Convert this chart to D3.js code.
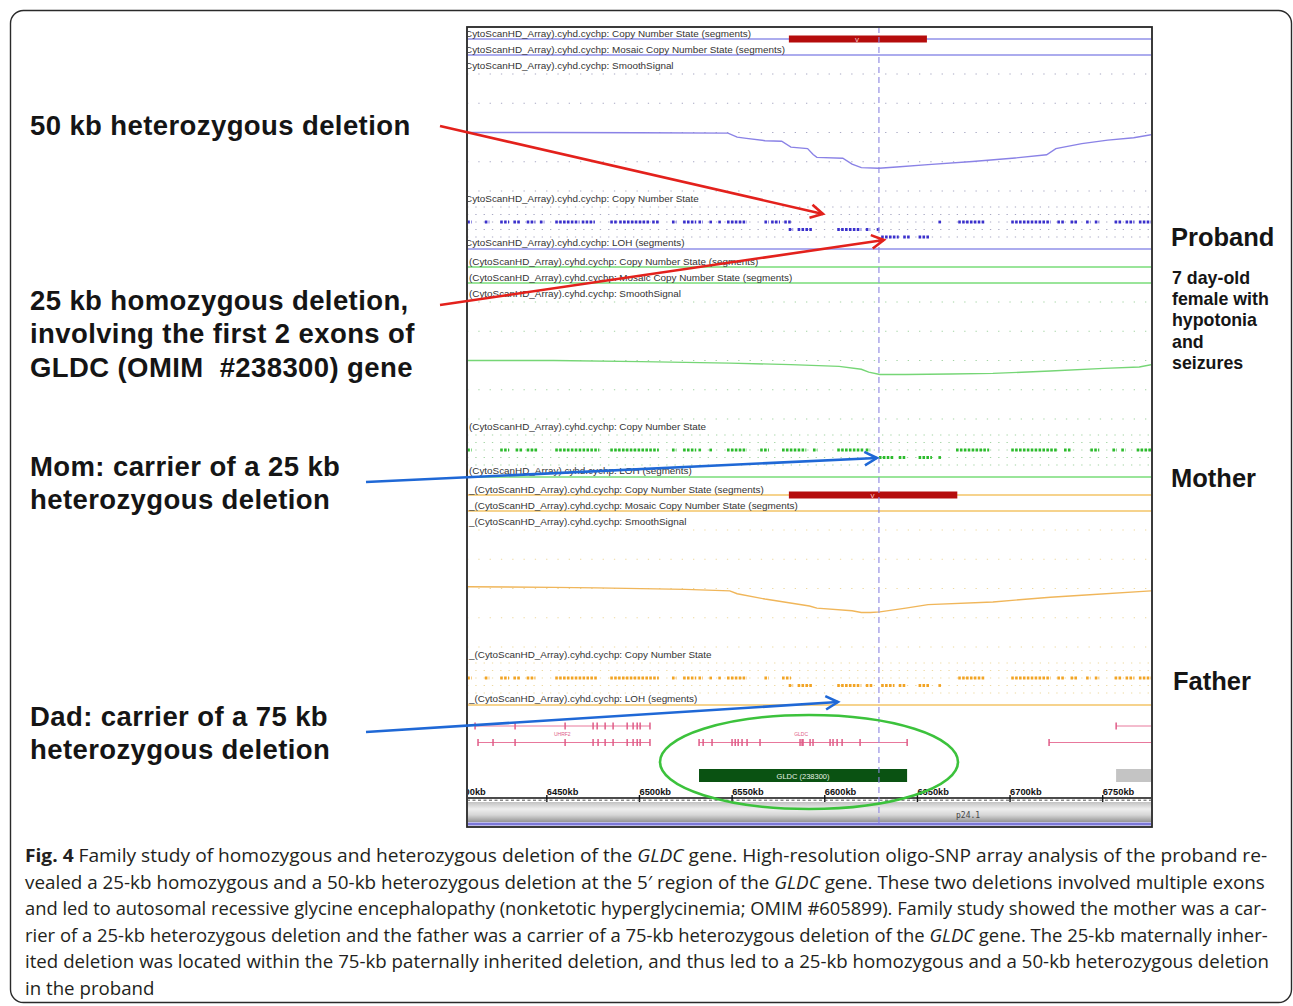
<!DOCTYPE html>
<html><head><meta charset="utf-8">
<script src="https://cdn.jsdelivr.net/npm/d3@7"></script>
<style>
html,body{margin:0;padding:0;background:#fff;}
svg{display:block;}
</style></head>
<body>
<svg id="fig" width="1293" height="1006"></svg>
<script>
// ---- genomic axis (kb on chr9p24.1) ----
const axisTicks = [6400, 6450, 6500, 6550, 6600, 6650, 6700, 6750];
const axisLabels = ["6400kb", "6450kb", "6500kb", "6550kb", "6600kb", "6650kb", "6700kb", "6750kb"];
const cursorKb = 6629.5;
const bandLabel = "p24.1";

// ---- samples ----
const sampleNames = ["Proband", "Mother", "Father"];
const probandNotes = ["7 day-old", "female with", "hypotonia", "and", "seizures"];
const trackPrefixes = ["CytoScanHD_Array).cyhd.cychp: ", "(CytoScanHD_Array).cyhd.cychp: ", "_(CytoScanHD_Array).cyhd.cychp: "];
const trackNames = ["Copy Number State (segments)", "Mosaic Copy Number State (segments)", "SmoothSignal", "Copy Number State", "LOH (segments)"];

// copy-number loss segments (kb) and segment markers
const lossSegments = [[6580.9, 6655.4], null, [6580.9, 6671.8]];
const lossMarkers = [6617.6, null, 6626.0];

// SmoothSignal [kb, copy number]
const smoothProband = [[6407,2.0],[6450,2.0],[6500,1.99],[6548,1.98],[6553,1.84],[6558,1.80],[6568,1.72],[6577,1.70],[6582,1.50],[6591,1.45],[6594,1.25],[6596,1.15],[6610,1.12],[6615,0.92],[6620,0.80],[6629.5,0.78],[6639,0.82],[6656,0.90],[6680,1.01],[6703,1.13],[6720,1.24],[6725,1.45],[6739,1.62],[6753,1.74],[6767,1.82],[6777,1.93]];
const smoothMother = [[6407,2.0],[6454,2.0],[6501,1.96],[6549,1.91],[6582,1.86],[6608,1.80],[6620,1.70],[6624,1.60],[6630,1.52],[6644,1.52],[6668,1.54],[6691,1.56],[6722,1.64],[6751,1.73],[6770,1.78],[6777,1.86]];
const smoothFather = [[6407,2.06],[6454,2.04],[6477,2.02],[6525,1.97],[6549,1.92],[6553,1.82],[6568,1.64],[6592,1.40],[6596,1.33],[6615,1.24],[6620,1.18],[6625,1.18],[6630,1.20],[6644,1.33],[6656,1.45],[6691,1.54],[6722,1.70],[6739,1.77],[6777,1.92]];

// Copy Number State calls: runs of probes [startKb, endKb] at CN 2, 1, 0
const cnProband2 = [[6407.3,6409.7],[6416.8,6419.2],[6425.1,6429.9],[6432.2,6435.8],[6439.4,6444.1],[6446.5,6448.9],[6454.8,6467.9],[6469.1,6476.2],[6484.5,6488.1],[6489.3,6505.9],[6507.1,6510.7],[6517.8,6520.2],[6523.8,6530.9],[6532.1,6534.5],[6538.0,6539.2],[6542.8,6544.0],[6547.5,6558.2],[6567.7,6570.1],[6571.3,6576.1],[6578.4,6582.0],[6661.6,6662.8],[6672.3,6686.6],[6700.9,6722.2],[6725.8,6729.4],[6732.9,6736.5],[6741.3,6743.6],[6746.0,6748.4],[6756.7,6760.3],[6762.6,6767.4],[6769.8,6777.0]];
const cnProband1 = [[6580.8,6583.2],[6585.6,6593.9],[6607.0,6620.0],[6622.4,6624.8],[6628.3,6629.5]];
const cnProband0 = [[6630.7,6640.2],[6642.6,6646.2],[6650.9,6656.9]];
const cnMother2 = [[6407.3,6409.7],[6425.1,6429.9],[6433.4,6437.0],[6439.4,6445.3],[6454.8,6478.6],[6484.5,6510.7],[6517.8,6520.2],[6523.8,6530.9],[6532.1,6533.3],[6538.0,6539.2],[6547.5,6558.2],[6565.4,6570.1],[6577.2,6590.3],[6593.9,6596.3],[6607.0,6621.2],[6622.4,6624.8],[6671.1,6689.0],[6700.9,6725.8],[6729.4,6732.9],[6743.6,6748.4],[6755.5,6757.9],[6760.3,6762.6],[6768.6,6777.0]];
const cnMother1 = [[6629.5,6637.9],[6640.2,6643.8],[6650.9,6658.1],[6661.6,6662.8]];
const cnMother0 = [];
const cnFather2 = [[6407.3,6409.7],[6416.8,6419.2],[6425.1,6429.9],[6432.2,6435.8],[6439.4,6444.1],[6454.8,6477.4],[6484.5,6510.7],[6517.8,6520.2],[6523.8,6530.9],[6532.1,6534.5],[6538.0,6539.2],[6542.8,6544.0],[6547.5,6558.2],[6567.7,6570.1],[6577.2,6582.0],[6672.3,6686.6],[6700.9,6722.2],[6725.8,6729.4],[6732.9,6736.5],[6741.3,6743.6],[6746.0,6748.4],[6756.7,6760.3],[6762.6,6767.4],[6769.8,6777.0]];
const cnFather1 = [[6580.8,6583.2],[6585.6,6593.9],[6607.0,6620.0],[6622.4,6626.0],[6630.7,6637.9],[6640.2,6643.8],[6650.9,6656.9],[6661.6,6662.8]];
const cnFather0 = [];

// ---- RefSeq transcripts ----
const transcriptNames = ["", "UHRF2", "GLDC", "", ""];
const transcriptRows = [0, 1, 1, 1, 0];
const transcriptSpans = [[6411.5,6505.9],[6413.1,6505.9],[6532.4,6644.7],[6721.3,6790],[6757.5,6790]];
const transcriptExons = [
  [6411.5,6433.1,6460.1,6475.2,6477.4,6481.7,6486.0,6493.6,6496.8,6499.0,6500.6,6505.9],
  [6413.1,6421.2,6433.1,6460.1,6475.2,6477.9,6481.7,6486.0,6493.6,6496.8,6499.0,6500.6,6505.9],
  [6532.4,6534.6,6539.4,6550.2,6551.9,6553.5,6555.6,6558.3,6565.3,6586.9,6588.0,6588.5,6592.3,6593.9,6603.1,6604.7,6606.9,6609.6,6619.3,6644.7],
  [6721.3],
  [6757.5]
];
const transcriptLabelKb = [null, 6458.6, 6587.5, null, null];

// ---- OMIM genes ----
const omimLabels = ["GLDC (238300)", ""];
const omimSpans = [[6532.4, 6644.7], [6757.5, 6790]];
const omimFills = ["#0a5212", "#c4c4c4"];

// ---- annotation text ----
const leftNotes = [
  ["50 kb heterozygous deletion"],
  ["25 kb homozygous deletion,", "involving the first 2 exons of", "GLDC (OMIM  #238300) gene"],
  ["Mom: carrier of a 25 kb", "heterozygous deletion"],
  ["Dad: carrier of a 75 kb", "heterozygous deletion"]
];
const captionLines = [
  [["Fig. 4","b"],[" Family study of homozygous and heterozygous deletion of the ",""],["GLDC","i"],[" gene. High-resolution oligo-SNP array analysis of the proband re-",""]],
  [["vealed a 25-kb homozygous and a 50-kb heterozygous deletion at the 5\u2032 region of the ",""],["GLDC","i"],[" gene. These two deletions involved multiple exons",""]],
  [["and led to autosomal recessive glycine encephalopathy (nonketotic hyperglycinemia; OMIM #605899). Family study showed the mother was a car-",""]],
  [["rier of a 25-kb heterozygous deletion and the father was a carrier of a 75-kb heterozygous deletion of the ",""],["GLDC","i"],[" gene. The 25-kb maternally inher-",""]],
  [["ited deletion was located within the 75-kb paternally inherited deletion, and thus led to a 25-kb homozygous and a 50-kb heterozygous deletion",""]],
  [["in the proband",""]]
];

// ================= drawing =================
const W = 1293, H = 1006;
const svg = d3.select("#fig");
const SANS = "'Liberation Sans', Arial, sans-serif";
svg.append("rect").attr("width", W).attr("height", H).attr("fill", "#fff");

// figure frame
svg.append("rect").attr("x", 10.5).attr("y", 10.5).attr("width", 1281).attr("height", 992)
  .attr("rx", 13).attr("fill", "none").attr("stroke", "#2a2a2a").attr("stroke-width", 1.4);

const P = {x0: 467, x1: 1152, y0: 27, y1: 827};
const x = d3.scaleLinear().domain([6400, 6750]).range([453.7, 1102.2]);

const defs = svg.append("defs");
defs.append("clipPath").attr("id", "panelClip").append("rect")
  .attr("x", P.x0 + 1).attr("y", P.y0 + 1).attr("width", P.x1 - P.x0 - 2).attr("height", P.y1 - P.y0 - 2);
const band = defs.append("linearGradient").attr("id", "bandGrad").attr("x1", 0).attr("y1", 0).attr("x2", 0).attr("y2", 1);
[["0%", "#c2c2c2"], ["35%", "#eeeeee"], ["65%", "#d6d6d6"], ["100%", "#959595"]]
  .forEach(([o, c]) => band.append("stop").attr("offset", o).attr("stop-color", c));

const panel = svg.append("g").attr("clip-path", "url(#panelClip)");

const trackTops = [27, 255, 483];
const palettes = [
  {line: "#9090e8", smooth: "#8a82e6", cn: "#3a30cc", grid: "#a8a8c4"},
  {line: "#78dc78", smooth: "#76d676", cn: "#2cbb2c", grid: "#a4d4a4"},
  {line: "#f3c467", smooth: "#f0b65a", cn: "#f2a424", grid: "#eed9a0"}
];
const smoothSeries = [smoothProband, smoothMother, smoothFather];
const cnSeries = [[cnProband2, cnProband1, cnProband0], [cnMother2, cnMother1, cnMother0], [cnFather2, cnFather1, cnFather0]];
const cnLevels = [2, 1, 0];
const labelX = [465, 469, 469];

sampleNames.forEach((name, i) => {
  const T = trackTops[i], pal = palettes[i];
  const g = panel.append("g");
  const yS = d3.scaleLinear().domain([0, 4]).range([T + 164, T + 47]);
  const yC = d3.scaleLinear().domain([0, 4]).range([T + 210, T + 180]);

  // dotted reference rows
  [0, 1, 2, 3, 4].forEach(v => {
    g.append("line").attr("x1", P.x0).attr("x2", P.x1).attr("y1", yS(v)).attr("y2", yS(v))
      .attr("stroke", pal.grid).attr("stroke-width", 1.2).attr("stroke-dasharray", "1.3,10");
    g.append("line").attr("x1", P.x0).attr("x2", P.x1).attr("y1", yC(v)).attr("y2", yC(v))
      .attr("stroke", pal.grid).attr("stroke-width", 1.2).attr("stroke-dasharray", "1.3,7");
  });

  // segment track baselines
  [T + 12, T + 28, T + 222].forEach(yy => {
    g.append("line").attr("x1", P.x0).attr("x2", P.x1).attr("y1", yy).attr("y2", yy)
      .attr("stroke", pal.line).attr("stroke-width", 1.6);
  });

  // track labels
  [T + 9.5, T + 25.5, T + 42, T + 175, T + 219].forEach((yy, k) => {
    g.append("text").attr("x", labelX[i]).attr("y", yy)
      .attr("font-family", SANS).attr("font-size", 9.9).attr("fill", "#333")
      .text(trackPrefixes[i] + trackNames[k]);
  });

  // copy-number loss segment
  if (lossSegments[i]) {
    const [s, e] = lossSegments[i];
    g.append("rect").attr("x", x(s)).attr("y", T + 8.5).attr("width", x(e) - x(s)).attr("height", 7)
      .attr("fill", "#b50c0c");
    g.append("text").attr("x", x(lossMarkers[i])).attr("y", T + 15).attr("text-anchor", "middle")
      .attr("font-family", SANS).attr("font-size", 8).attr("fill", "#f4c8c8").text("v");
  }

  // SmoothSignal
  g.append("path").datum(smoothSeries[i])
    .attr("d", d3.line().x(d => x(d[0])).y(d => yS(d[1])))
    .attr("fill", "none").attr("stroke", pal.smooth).attr("stroke-width", 1.4);

  // Copy Number State probe runs
  cnSeries[i].forEach((runs, k) => {
    g.selectAll(null).data(runs).enter().append("line")
      .attr("x1", d => x(d[0])).attr("x2", d => Math.max(x(d[1]), x(d[0]) + 2.6))
      .attr("y1", yC(cnLevels[k])).attr("y2", yC(cnLevels[k]))
      .attr("stroke", pal.cn).attr("stroke-width", 2.8).attr("stroke-dasharray", "2.6,1.3");
  });
});

// ---- transcripts ----
const rowY = [726, 742.5];
const tCol = "#e8789c";
transcriptSpans.forEach((sp, t) => {
  const yy = rowY[transcriptRows[t]];
  panel.append("line").attr("x1", x(sp[0])).attr("x2", x(sp[1])).attr("y1", yy).attr("y2", yy)
    .attr("stroke", tCol).attr("stroke-width", 1);
  panel.selectAll(null).data(transcriptExons[t]).enter().append("rect")
    .attr("x", d => x(d) - 0.7).attr("y", yy - 3.5).attr("width", 1.5).attr("height", 7)
    .attr("fill", "#e05c88");
  if (transcriptLabelKb[t] !== null) {
    panel.append("text").attr("x", x(transcriptLabelKb[t])).attr("y", yy - 7)
      .attr("text-anchor", "middle").attr("font-family", SANS).attr("font-size", 5)
      .attr("fill", "#e05c88").text(transcriptNames[t]);
  }
});

// ---- OMIM genes ----
omimSpans.forEach((sp, k) => {
  panel.append("rect").attr("x", x(sp[0])).attr("y", 769).attr("width", x(sp[1]) - x(sp[0])).attr("height", 13)
    .attr("fill", omimFills[k]);
  if (omimLabels[k]) {
    panel.append("text").attr("x", (x(sp[0]) + x(sp[1])) / 2).attr("y", 778.5).attr("text-anchor", "middle")
      .attr("font-family", SANS).attr("font-size", 7.5).attr("fill", "#e6f2e6").text(omimLabels[k]);
  }
});

// ---- position axis ----
const axisY = 798;
const ax = panel.append("g").attr("transform", `translate(0,${axisY})`)
  .call(d3.axisBottom(x).tickValues(axisTicks).tickFormat((d, i) => axisLabels[i]).tickSize(5).tickSizeOuter(0));
ax.select(".domain").remove();
ax.append("line").attr("x1", P.x0).attr("x2", P.x1).attr("stroke", "#111").attr("stroke-width", 1.3);
ax.append("line").attr("x1", P.x0).attr("x2", P.x1).attr("y1", 2.2).attr("y2", 2.2)
  .attr("stroke", "#555").attr("stroke-width", 1).attr("stroke-dasharray", "3,2.5");
ax.selectAll(".tick line").attr("y1", -3).attr("y2", 4).attr("stroke", "#111").attr("stroke-width", 1.4);
ax.selectAll(".tick text").attr("y", -3).attr("dy", 0).attr("text-anchor", "start")
  .attr("font-family", SANS).attr("font-weight", "bold").attr("font-size", 9.3).attr("fill", "#111");

// cytoband
panel.append("rect").attr("x", P.x0).attr("y", 802).attr("width", P.x1 - P.x0).attr("height", 20)
  .attr("fill", "url(#bandGrad)");
panel.append("line").attr("x1", P.x0).attr("x2", P.x1).attr("y1", 824).attr("y2", 824)
  .attr("stroke", "#7c78d8").attr("stroke-width", 3.2);
panel.append("text").attr("x", 956).attr("y", 818).attr("font-family", "'DejaVu Sans Mono', monospace")
  .attr("font-size", 8).attr("fill", "#444").text(bandLabel);

// cursor
panel.append("line").attr("x1", x(cursorKb)).attr("x2", x(cursorKb)).attr("y1", P.y0).attr("y2", P.y1)
  .attr("stroke", "#8c86e0").attr("stroke-width", 1.1).attr("stroke-dasharray", "6,4");

// panel frame
svg.append("rect").attr("x", P.x0).attr("y", P.y0).attr("width", P.x1 - P.x0).attr("height", P.y1 - P.y0)
  .attr("fill", "none").attr("stroke", "#262626").attr("stroke-width", 1.8);

// GLDC highlight
svg.append("ellipse").attr("cx", 809).attr("cy", 762).attr("rx", 149).attr("ry", 47)
  .attr("fill", "none").attr("stroke", "#3cc23c").attr("stroke-width", 2.6);

// ---- left annotations ----
const leftBase = [[135], [310, 343, 377], [476, 509], [726, 759]];
leftNotes.forEach((lines, k) => lines.forEach((ln, j) => {
  svg.append("text").attr("x", 30).attr("y", leftBase[k][j])
    .attr("font-family", SANS).attr("font-weight", "bold").attr("font-size", 27.5)
    .attr("letter-spacing", 0.4)
    .attr("fill", "#151515").style("white-space", "pre").text(ln);
}));

// ---- right annotations ----
const nameBase = [246, 487, 690];
const nameX = [1171, 1171, 1173];
sampleNames.forEach((n, i) => {
  svg.append("text").attr("x", nameX[i]).attr("y", nameBase[i]).attr("font-family", SANS)
    .attr("font-weight", "bold").attr("font-size", 25.5).attr("fill", "#151515").text(n);
});
probandNotes.forEach((n, j) => {
  svg.append("text").attr("x", 1172).attr("y", 283.5 + j * 21.4).attr("font-family", SANS)
    .attr("font-weight", "bold").attr("font-size", 17.8).attr("fill", "#151515").text(n);
});

// ---- arrows ----
function arrow(x1, y1, x2, y2, color) {
  const a = Math.atan2(y2 - y1, x2 - x1), L = 14, s = 0.5;
  svg.append("line").attr("x1", x1).attr("y1", y1).attr("x2", x2).attr("y2", y2)
    .attr("stroke", color).attr("stroke-width", 2.6);
  svg.append("polyline")
    .attr("points", [[x2 - L * Math.cos(a - s), y2 - L * Math.sin(a - s)], [x2, y2], [x2 - L * Math.cos(a + s), y2 - L * Math.sin(a + s)]].map(p => p.join(",")).join(" "))
    .attr("fill", "none").attr("stroke", color).attr("stroke-width", 2.6).attr("stroke-linejoin", "miter");
}
arrow(440, 126, x(6599.3), trackTops[0] + 187, "#e3211c");
arrow(440, 305, x(6632.2), trackTops[0] + 213, "#e3211c");
arrow(366, 482, x(6628.4), trackTops[1] + 203, "#1f68d6");
arrow(366, 732, x(6607.4), trackTops[2] + 219, "#1f68d6");

// ---- caption ----
const capBase = [862, 888.5, 915, 941.5, 968, 994.5];
const capWidth = [1243, 1241, 1243, 1243, 1245, null];
let lastScale = 0.85;
captionLines.forEach((parts, i) => {
  const g = svg.append("g").attr("transform", `translate(25,${capBase[i]})`);
  const t = g.append("text").attr("x", 0).attr("y", 0).attr("font-family", "'Open Sans', sans-serif")
    .attr("font-size", 18.5).attr("fill", "#231f20").style("white-space", "pre");
  parts.forEach(([s, st]) => {
    const ts = t.append("tspan").text(s);
    if (st === "b") ts.attr("font-weight", "bold");
    if (st === "i") ts.attr("font-style", "italic");
  });
  const w = t.node().getComputedTextLength();
  if (capWidth[i]) lastScale = capWidth[i] / w;
  g.attr("transform", `translate(25,${capBase[i]}) scale(${lastScale},1)`);
});
</script>
</body></html>
